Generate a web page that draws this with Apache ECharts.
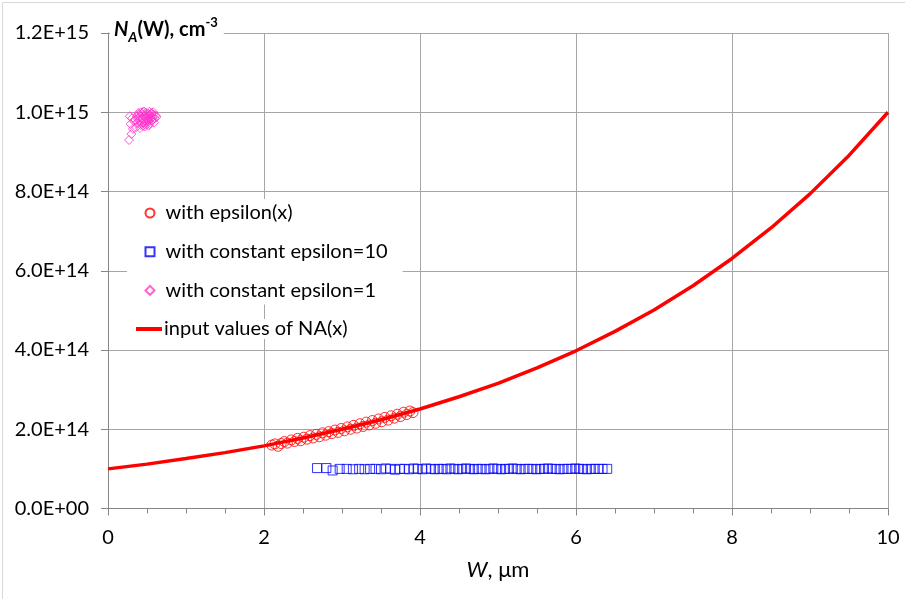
<!DOCTYPE html>
<html>
<head>
<meta charset="utf-8">
<script src="https://cdn.jsdelivr.net/npm/echarts@6/dist/echarts.min.js"></script>
<style>
html,body{margin:0;padding:0;background:#fff;}
#chart{width:905px;height:599px;}
</style>
</head>
<body>
<div id="chart"></div>
<script>
// Values in units of 1E+14 cm^-3
var lineX = [0,0.5,1,1.5,2,2.5,3,3.5,4,4.5,5,5.5,6,6.5,7,7.5,8,8.5,9,9.5,10];
var lineY = [1.00,1.12,1.26,1.41,1.58,1.78,2.00,2.24,2.51,2.82,3.16,3.55,3.98,4.47,5.01,5.62,6.31,7.08,7.94,8.91,10.0];

var circX = [2.10,2.14,2.18,2.22,2.26,2.30,2.35,2.39,2.43,2.47,2.51,2.55,2.59,2.63,2.67,2.71,2.75,2.79,2.83,2.87,2.91,2.95,2.99,3.03,3.07,3.11,3.15,3.19,3.23,3.27,3.31,3.35,3.39,3.43,3.47,3.51,3.55,3.59,3.63,3.67,3.71,3.75,3.79,3.83,3.87,3.91];
var circY = [1.60,1.63,1.57,1.64,1.69,1.65,1.73,1.69,1.77,1.71,1.80,1.75,1.84,1.78,1.87,1.81,1.91,1.85,1.94,1.89,1.98,1.92,2.02,1.96,2.06,2.00,2.10,2.03,2.14,2.07,2.18,2.11,2.22,2.15,2.26,2.19,2.30,2.23,2.34,2.28,2.38,2.32,2.43,2.37,2.46,2.42];

var sqX = [2.68,2.80,2.88,2.97,3.06,3.14,3.22,3.29,3.36,3.43,3.50,3.56,3.62,3.68,3.74,3.80,3.86,3.92,3.97,4.03,4.08,4.14,4.19,4.24,4.29,4.34,4.39,4.44,4.49,4.54,4.59,4.64,4.69,4.74,4.79,4.84,4.89,4.94,4.99,5.04,5.09,5.14,5.19,5.24,5.29,5.34,5.39,5.44,5.49,5.54,5.59,5.64,5.69,5.74,5.79,5.84,5.89,5.94,5.99,6.04,6.09,6.14,6.19,6.24,6.29,6.34,6.40];
var sqY = [1.02,1.02,0.96,1.00,1.00,0.99,1.00,0.99,1.00,1.00,0.99,1.01,1.00,0.98,1.00,1.00,0.99,1.01,1.00,0.99,1.01,1.00,0.99,1.00,1.00,0.99,1.01,1.00,0.99,1.00,1.01,1.00,0.99,1.00,1.00,0.99,1.00,1.01,1.00,0.99,1.00,1.00,1.01,1.00,0.99,1.00,1.00,1.00,0.99,1.00,1.00,1.01,1.00,1.00,0.99,1.00,1.00,1.00,1.01,1.00,1.00,0.99,1.00,1.00,1.00,1.00,1.00];

var diaX = [0.27,0.30,0.32,0.29,0.33,0.28,0.31,0.36,0.38,0.40,0.42,0.44,0.46,0.48,0.50,0.52,0.54,0.56,0.58,0.60,0.37,0.39,0.41,0.43,0.45,0.47,0.49,0.51,0.53,0.55,0.57,0.59,0.40,0.44,0.48,0.52,0.56,0.42,0.46,0.50,0.54,0.58,0.35,0.45,0.55,0.61,0.49,0.53,0.38,0.43,0.47,0.51,0.57,0.62,0.41,0.52];
var diaY = [9.30,9.45,9.58,9.70,9.78,9.90,9.85,9.62,9.72,9.80,9.68,9.86,9.75,9.92,9.82,9.96,9.88,9.78,9.94,9.85,9.90,9.98,9.88,9.95,10.00,9.70,9.98,9.90,10.01,9.96,9.88,9.74,9.94,9.82,9.86,9.78,9.98,10.00,10.02,9.70,9.92,10.00,9.80,9.66,9.84,9.92,9.76,9.70,9.84,9.74,9.64,9.80,9.82,9.88,9.60,9.66];

var xTicks = ['0','2','4','6','8','10'];
var yTickLabels = ['0.0E+00','2.0E+14','4.0E+14','6.0E+14','8.0E+14','1.0E+15','1.2E+15'];

function pairs(xs, ys){ return xs.map(function(x,i){ return [x, ys[i]]; }); }

var FONT = 'Lato';
var gridColor = '#a6a6a6';
var axisColor = '#868686';
var chart = echarts.init(document.getElementById('chart'), null, {renderer:'canvas'});
chart.setOption({
  animation:false,
  backgroundColor:'#fff',
  textStyle:{fontFamily:FONT},
  grid:{left:108, right:17, top:33, bottom:90.5, containLabel:false},
  title:{
    left:110, top:14, padding:[2,6,2,4], backgroundColor:'#fff',
    text:'{i|N}{sub|A}{n|(W), cm}{sup|-3}',
    textStyle:{
      rich:{
        i:{fontFamily:FONT,fontStyle:'italic',fontSize:20,color:'#000',lineHeight:28,verticalAlign:'middle'},
        sub:{fontFamily:FONT,fontStyle:'italic',fontSize:14,color:'#000',lineHeight:28,verticalAlign:'bottom'},
        n:{fontFamily:FONT,fontSize:20,color:'#000',lineHeight:28,verticalAlign:'middle'},
        sup:{fontFamily:FONT,fontSize:13,color:'#000',lineHeight:28,verticalAlign:'top'}
      }
    }
  },
  legend:[{
    orient:'vertical', left:127, top:199, backgroundColor:'#fff', padding:[4,15,4,17.5],
    itemWidth:9, itemHeight:9, itemGap:18.7,
    textStyle:{fontFamily:FONT, fontSize:20, color:'#000', lineHeight:20, padding:[0,0,0,6]},
    data:['with epsilon(x)','with constant epsilon=10','with constant epsilon=1']
  },{
    orient:'vertical', left:136, top:319, backgroundColor:'#fff', padding:0,
    itemWidth:26, itemHeight:4, itemGap:0,
    textStyle:{fontFamily:FONT, fontSize:20, color:'#000', lineHeight:20, padding:[0,0,0,-3]},
    data:[{name:'input values of NA(x)', icon:'rect'}]
  }],
  xAxis:{
    type:'value', min:0, max:10, interval:2,
    name:'{i|W}{n|, μm}', nameLocation:'middle', nameGap:50,
    nameTextStyle:{rich:{i:{fontFamily:FONT,fontStyle:'italic',fontSize:22,color:'#000'},n:{fontFamily:FONT,fontSize:22,color:'#000'}}},
    axisLine:{lineStyle:{color:axisColor,width:1}},
    axisTick:{show:true,inside:false,length:7,lineStyle:{color:axisColor}},
    minorTick:{show:true,splitNumber:4,length:5,lineStyle:{color:axisColor}},
    splitLine:{show:true,lineStyle:{color:gridColor,width:1}},
    axisLabel:{margin:19,fontFamily:FONT,fontSize:20,color:'#000',formatter:function(v){ return xTicks[Math.round(v/2)]; }}
  },
  yAxis:{
    type:'value', min:0, max:12, interval:2,
    axisLine:{show:true,lineStyle:{color:axisColor,width:1}},
    axisTick:{show:true,inside:false,length:7,lineStyle:{color:axisColor}},
    splitLine:{show:true,lineStyle:{color:gridColor,width:1}},
    axisLabel:{margin:19,fontFamily:FONT,fontSize:20,color:'#000',formatter:function(v){ return yTickLabels[Math.round(v/2)]; }}
  },
  series:[
    {name:'with epsilon(x)', type:'scatter', symbol:'circle', symbolSize:10,
     itemStyle:{color:'rgba(255,255,255,0)', borderColor:'#ff0000', borderWidth:1},
     data:pairs(circX,circY), z:3},
    {name:'with constant epsilon=10', type:'scatter', symbol:'rect', symbolSize:9,
     itemStyle:{color:'rgba(255,255,255,0)', borderColor:'#0000ff', borderWidth:1},
     data:pairs(sqX,sqY), z:3},
    {name:'with constant epsilon=1', type:'scatter', symbol:'diamond', symbolSize:9,
     itemStyle:{color:'rgba(255,255,255,0)', borderColor:'#ff33cc', borderWidth:1},
     data:pairs(diaX,diaY), z:3},
    {name:'input values of NA(x)', type:'line', symbol:'none', showSymbol:false,
     lineStyle:{color:'#ff0000', width:3.5}, itemStyle:{color:'#ff0000'},
     data:pairs(lineX,lineY), z:4}
  ],
  graphic:[{type:'rect', left:0, top:0, shape:{x:0.5,y:0.5,width:903,height:597}, style:{fill:'none',stroke:'#d9d9d9',lineWidth:1}, silent:true, z:-1}]
});
</script>
</body>
</html>
